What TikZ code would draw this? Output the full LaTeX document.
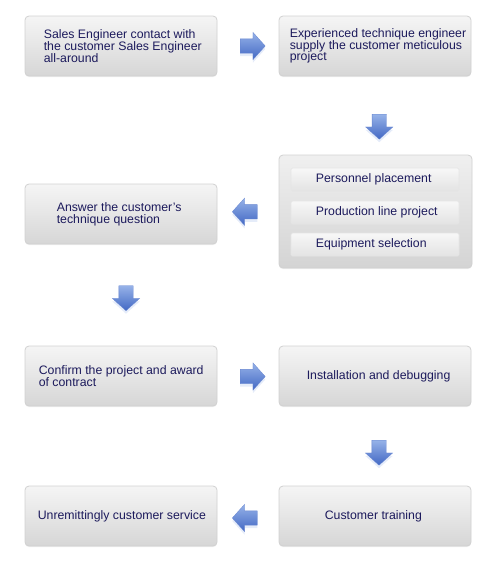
\documentclass[tikz,border=0pt]{standalone}
\usepackage{fontspec}
\setmainfont{Liberation Sans}
\usetikzlibrary{shapes.arrows,shadows,calc}

\definecolor{txtblue}{RGB}{28,26,92}
\definecolor{arrlight}{RGB}{150,178,232}
\definecolor{arrdark}{RGB}{66,104,196}

\tikzset{
  stepbox/.style={rectangle, rounded corners=4pt, draw=black!18, line width=0.8pt,
    top color=black!4, bottom color=black!16,
    drop shadow={shadow xshift=0pt, shadow yshift=-1.2pt, opacity=.12},
    minimum width=192pt, minimum height=60pt, inner sep=0pt},
  subbox/.style={rectangle, rounded corners=1.5pt, draw=black!10, line width=0.6pt,
    top color=black!3, bottom color=black!11,
    minimum width=168pt, minimum height=23pt, inner sep=0pt},
  txt/.style={anchor=west, inner sep=0pt, align=left, text=txtblue,
    font=\fontsize{12.3}{11.7}\selectfont},
  fat/.style={single arrow, minimum width=27pt, minimum height=25pt,
    single arrow head extend=6.5pt, single arrow tip angle=96,
    inner sep=7pt,
    draw=arrdark!80, line width=0.3pt, top color=arrlight, bottom color=arrdark,
    drop shadow={shadow xshift=0pt, shadow yshift=-3pt, fill=arrlight, opacity=.25}}
}

\begin{document}
\begin{tikzpicture}[x=1pt,y=-1pt]
  \useasboundingbox (0,0) rectangle (491,563);

  % boxes
  \node[stepbox] (b1) at (121,46) {};
  \node[stepbox] (b2) at (375,46) {};
  \node[stepbox, minimum width=193pt, minimum height=113pt,
        top color=black!6, bottom color=black!17] (b3) at (375.5,211.5) {};
  \node[subbox] (s1) at (375,179.5) {};
  \node[subbox] (s2) at (375,212.5) {};
  \node[subbox] (s3) at (375,244.5) {};
  \node[stepbox] (b4) at (121,214) {};
  \node[stepbox] (b5) at (121,376) {};
  \node[stepbox] (b6) at (375,376) {};
  \node[stepbox] (b7) at (121,516) {};
  \node[stepbox] (b8) at (375,516) {};

  % texts
  \node[txt] (t1) at ([xshift=19pt]b1.west) {Sales Engineer contact with\\the customer Sales Engineer\\all-around};
  \node[txt] (t2) at ([xshift=11pt]b2.west) {Experienced technique engineer\\supply the customer meticulous\\project};
  \node[txt] (u1) at ([xshift=25pt]s1.west) {Personnel placement};
  \node[txt] (u2) at ([xshift=25pt]s2.west) {Production line project};
  \node[txt] (u3) at ([xshift=25pt]s3.west) {Equipment selection};
  \node[txt] (t4) at ([xshift=32pt]b4.west) {Answer the customer\symbol{39}s\\technique question};
  \node[txt] (t5) at ([xshift=14pt]b5.west) {Confirm the project and award\\of contract};
  \node[txt] (t6) at ([xshift=28pt]b6.west) {Installation and debugging};
  \node[txt] (t7) at ([xshift=13pt]b7.west) {Unremittingly customer service};
  \node[txt] (t8) at ([xshift=46pt]b8.west) {Customer training};

  % arrows
  \node[fat] (a1) at ($(b1.east)!.5!(b2.west)+(1.5,0)$) {};
  \node[fat, shape border rotate=270] (a2) at ($(b2.south)!.5!(b3.north)+(4,8)$) {};
  \node[fat, shape border rotate=180] (a3) at ($(b4.east)!.5!(b3.west)+(0,-1)$) {};
  \node[fat, shape border rotate=270] (a4) at ($(b4.south)!.5!(b5.north)+(5,0)$) {};
  \node[fat] (a5) at ($(b5.east)!.5!(b6.west)+(1.5,0.5)$) {};
  \node[fat, shape border rotate=270] (a6) at ($(b6.south)!.5!(b8.north)+(4,3.5)$) {};
  \node[fat, shape border rotate=180] (a7) at ($(b7.east)!.5!(b8.west)+(0,2)$) {};
\end{tikzpicture}
\end{document}
